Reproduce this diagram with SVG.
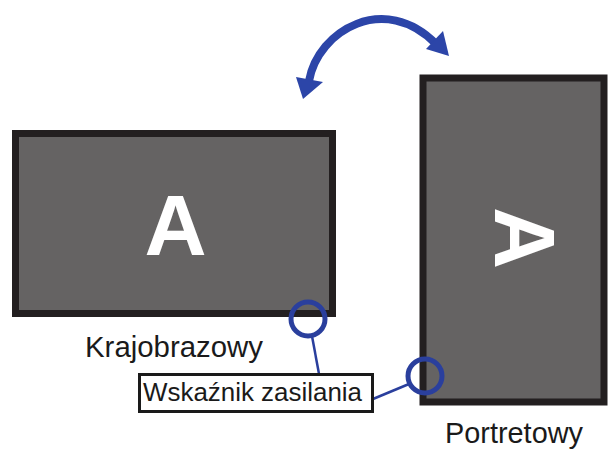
<svg xmlns="http://www.w3.org/2000/svg" width="615" height="457" viewBox="0 0 615 457">
<style>
.screen{fill:#656363;stroke:#231f20;stroke-width:7}
.big{font-family:"Liberation Sans",Arial,sans-serif;font-weight:bold;fill:#ffffff;text-anchor:middle}
.lbl{font-family:"Liberation Sans",Arial,sans-serif;fill:#1a1a1a}
.ind{fill:none;stroke:#2a3f9d;stroke-width:5}
.lead{fill:none;stroke:#2a3f9d;stroke-width:2.5}
.rot{fill:none;stroke:#2c45a8;stroke-width:8}
.head{fill:#2c45a8}
</style>
<rect width="615" height="457" fill="#ffffff"/>
<g id="rotation-arrow">
<path class="rot" d="M 309 81 C 318 30 385 -8 436 44"/>
<polygon class="head" points="296,77 323,82 303,99"/>
<polygon class="head" points="426,49 443,31 449,56"/>
</g>
<g id="landscape">
<rect class="screen" x="15.5" y="133.5" width="317" height="180"/>
<text class="big" x="175.5" y="255" font-size="86">A</text>
<text class="lbl" x="85" y="357" font-size="30" textLength="178" lengthAdjust="spacingAndGlyphs">Krajobrazowy</text>
</g>
<g id="portrait">
<rect class="screen" x="423" y="78" width="181" height="324"/>
<text class="big" transform="translate(495,238) rotate(90)" font-size="86">A</text>
<text class="lbl" x="445" y="443" font-size="29" textLength="138" lengthAdjust="spacingAndGlyphs">Portretowy</text>
</g>
<g id="connectors">
<line class="lead" x1="312" y1="336" x2="319" y2="374"/>
<line class="lead" x1="373" y1="399" x2="409" y2="384"/>
</g>
<g id="indicator-landscape">
<circle class="ind" cx="308" cy="319" r="17"/>
</g>
<g id="indicator-portrait">
<circle class="ind" cx="425" cy="376" r="17"/>
</g>
<g id="label">
<rect x="139.5" y="374.5" width="233" height="37" fill="#ffffff" stroke="#1a1a1a" stroke-width="3"/>
<text class="lbl" x="143" y="401" font-size="25" textLength="219" lengthAdjust="spacingAndGlyphs">Wskaźnik zasilania</text>
</g>
</svg>
